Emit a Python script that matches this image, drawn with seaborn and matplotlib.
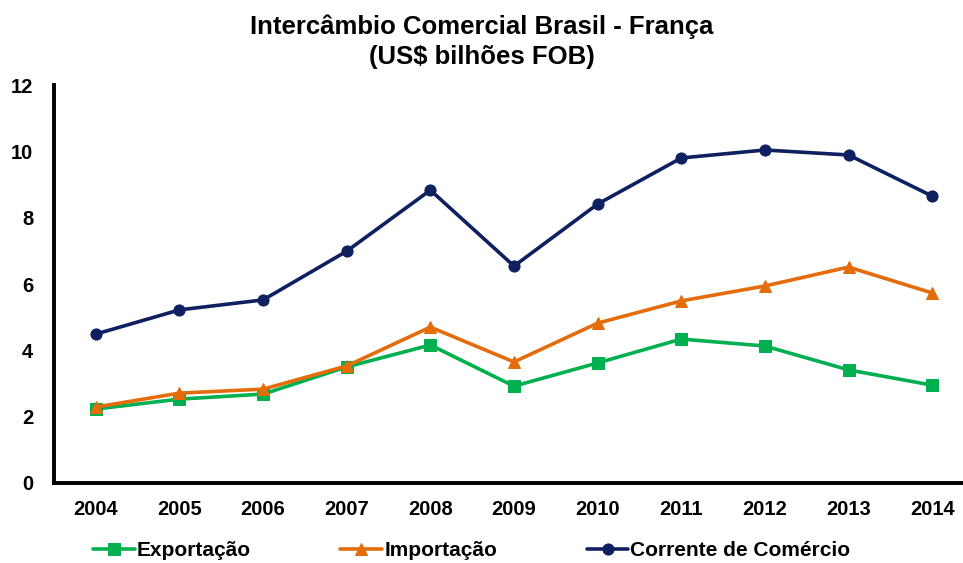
import pandas as pd
import numpy as np
import seaborn as sns
import matplotlib.pyplot as plt

sns.set_style('white')
plt.rcParams['font.family'] = ['Liberation Sans', 'DejaVu Sans']
plt.rcParams['font.weight'] = 'bold'
plt.rcParams['text.color'] = 'black'
plt.rcParams['xtick.color'] = 'black'
plt.rcParams['ytick.color'] = 'black'

anos = ['2004', '2005', '2006', '2007', '2008', '2009', '2010', '2011', '2012', '2013', '2014']
exportacao = [2.23, 2.53, 2.68, 3.50, 4.16, 2.92, 3.62, 4.34, 4.13, 3.41, 2.95]
importacao = [2.29, 2.71, 2.83, 3.53, 4.70, 3.65, 4.82, 5.49, 5.94, 6.51, 5.73]
corrente = [4.49, 5.22, 5.52, 6.99, 8.83, 6.54, 8.41, 9.80, 10.04, 9.89, 8.65]

series = ['Exportação', 'Importação', 'Corrente de Comércio']
cores = {'Exportação': '#00B050', 'Importação': '#E46C0A', 'Corrente de Comércio': '#0F2060'}
marcadores = {'Exportação': 's', 'Importação': '^', 'Corrente de Comércio': 'o'}

df = pd.DataFrame({
    'ano': list(range(len(anos))) * 3,
    'valor': exportacao + importacao + corrente,
    'serie': np.repeat(series, len(anos)),
})

fig = plt.figure(figsize=(9.63, 5.63), dpi=100)
ax = fig.add_axes([54 / 963, 80 / 563, 920 / 963, 398 / 563])

for s in series:
    sns.lineplot(data=df[df['serie'] == s], x='ano', y='valor', ax=ax,
                 color=cores[s], marker=marcadores[s], markersize=10,
                 markeredgecolor=cores[s], linewidth=2.6, label=s)

ax.set_xlim(-0.5, len(anos) - 0.5)
ax.set_ylim(0, 12)
ax.set_yticks(range(0, 13, 2))
ax.set_xticks(range(len(anos)))
ax.set_xticklabels(anos)
ax.set_xticks(np.arange(0.5, len(anos) - 0.5, 1), minor=True)
ax.tick_params(axis='x', which='major', length=0, pad=12, labelsize=14.5)
ax.tick_params(axis='x', which='minor', length=5, width=1.5, direction='out')
ax.tick_params(axis='y', length=5, width=1.5, direction='out', labelsize=14.5, pad=10)
ax.set_xlabel('')
ax.set_ylabel('')
for lab in ax.get_xticklabels() + ax.get_yticklabels():
    lab.set_fontweight('bold')

sns.despine(ax=ax)
for sp in ['left', 'bottom']:
    ax.spines[sp].set_linewidth(2.8)
    ax.spines[sp].set_color('black')

ax.legend_.remove()
h, l = ax.get_legend_handles_labels()
for hh in h:
    hh.set_markersize(8)
fig.legend(h, l, loc='center left', bbox_to_anchor=(93 / 963, 1 - 551 / 563), ncol=3,
           frameon=False, columnspacing=4.3, borderpad=0, borderaxespad=0,
           handlelength=2.0, handletextpad=0.1, prop={'weight': 'bold', 'size': 15})

fig.text(0.5, 1 - 27 / 563, 'Intercâmbio Comercial Brasil - França',
         ha='center', va='center', fontsize=18.5, fontweight='bold')
fig.text(0.5, 1 - 57 / 563, '(US$ bilhões FOB)',
         ha='center', va='center', fontsize=18.5, fontweight='bold')

fig.savefig('out.png', dpi=100)
